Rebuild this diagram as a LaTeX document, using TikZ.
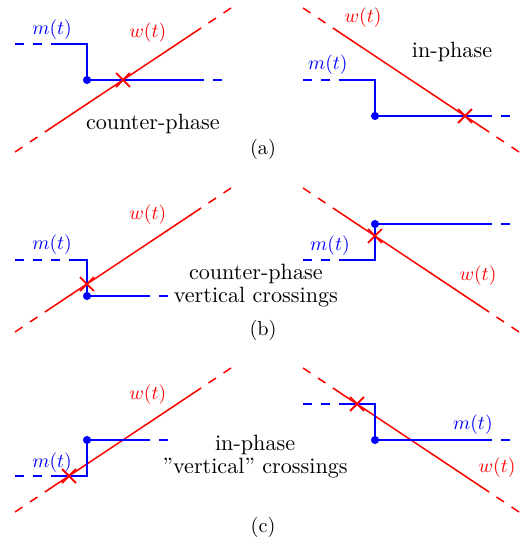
\documentclass[tikz,border=0pt]{standalone}
\usetikzlibrary{shapes.misc}

% cmr10 scaled up, as in the original drawing
\newcommand{\sig}[1]{\scalebox{1.55}{$#1$}}
\newcommand{\bigtext}[1]{\scalebox{1.75}{\normalsize #1}}
\newcommand{\subtext}[1]{\scalebox{1.6}{\normalsize #1}}

\tikzset{
  wline/.style={red, line width=1.2pt},
  mline/.style={blue, line width=1.7pt},
  tail/.style={dash pattern=on 7.11pt off 7.11pt},
  xmark/.style={cross out, draw=red, line width=1.4pt, minimum size=9.5pt, inner sep=0pt},
  txt/.style={font=\fontsize{17.28}{18.2}\selectfont, align=center}
}

\begin{document}
\begin{tikzpicture}
  \useasboundingbox (-0.4167,-0.8889) rectangle (14.2222,14.2222);

  % w(t): rising on the left, falling on the right
  \foreach \y in {0,5,10} {
    \begin{scope}[shift={(0,\y)}]
      \draw[wline,tail] (0,0) -- (0.832,0.555);
      \draw[wline] (0.832,0.555) -- (5.168,3.445);
      \draw[wline,tail] (6,4) -- (5.168,3.445);
      \draw[wline,tail] (8,4) -- (8.832,3.445);
      \draw[wline] (8.832,3.445) -- (13.168,0.555);
      \draw[wline,tail] (14,0) -- (13.168,0.555);
    \end{scope}
  }

  % (a)
  \begin{scope}[shift={(0,10)}]
    \draw[mline,tail] (0,3) -- (1,3);
    \draw[mline] (1,3) -- (2,3) -- (2,2) -- (5,2);
    \draw[mline,tail] (5,2) -- (5.75,2);
    \fill[blue] (2,2) circle (3.2pt);
    \node[xmark] (xa1) at (3,2) {};
    \node[blue] (ma1) at (1.03,3.39) {\sig{m(t)}};
    \node[red] (wa1) at (3.69,3.31) {\sig{w(t)}};
    \node[txt] (ta1) at (3.83,0.78) {\bigtext{counter-phase}};

    \draw[mline,tail] (8,2) -- (9,2);
    \draw[mline] (9,2) -- (10,2) -- (10,1) -- (13,1);
    \draw[mline,tail] (13,1) -- (13.75,1);
    \fill[blue] (10,1) circle (3.2pt);
    \node[xmark] (xa2) at (12.5,1) {};
    \node[blue] (ma2) at (8.69,2.42) {\sig{m(t)}};
    \node[red] (wa2) at (9.67,3.72) {\sig{w(t)}};
    \node[txt] (ta2) at (12.14,2.78) {\bigtext{in-phase}};

    \node (capa) at (6.89,0.06) {\subtext{(a)}};
  \end{scope}

  % (b)
  \begin{scope}[shift={(0,5)}]
    \draw[mline,tail] (0,2) -- (1.5,2);
    \draw[mline] (1.5,2) -- (2,2) -- (2,1) -- (3.5,1);
    \draw[mline,tail] (3.5,1) -- (4.25,1);
    \fill[blue] (2,1) circle (3.2pt);
    \node[xmark] (xb1) at (2,1.333) {};
    \node[blue] (mb1) at (1.03,2.42) {\sig{m(t)}};
    \node[red] (wb1) at (3.69,3.25) {\sig{w(t)}};
    \node[txt] (tb1) at (6.69,1.3) {\bigtext{counter-phase}\\\bigtext{vertical crossings}};

    \draw[mline,tail] (8,2) -- (9,2);
    \draw[mline] (9,2) -- (10,2) -- (10,3) -- (13,3);
    \draw[mline,tail] (13,3) -- (13.75,3);
    \fill[blue] (10,3) circle (3.2pt);
    \node[xmark] (xb2) at (10,2.667) {};
    \node[blue] (mb2) at (8.75,2.39) {\sig{m(t)}};
    \node[red] (wb2) at (12.86,1.56) {\sig{w(t)}};

    \node (capb) at (6.89,0.03) {\subtext{(b)}};
  \end{scope}

  % (c)
  \draw[mline,tail] (0,1) -- (1,1);
  \draw[mline] (1,1) -- (2,1) -- (2,2) -- (3.5,2);
  \draw[mline,tail] (3.5,2) -- (4.25,2);
  \fill[blue] (2,2) circle (3.2pt);
  \node[xmark] (xc1) at (1.5,1) {};
  \node[blue] (mc1) at (1.03,1.36) {\sig{m(t)}};
  \node[red] (wc1) at (3.69,3.25) {\sig{w(t)}};
  \node[txt] (tc1) at (6.67,1.53) {\bigtext{in-phase}\\\bigtext{''vertical'' crossings}};

  \draw[mline,tail] (8,3) -- (9,3);
  \draw[mline] (9,3) -- (10,3) -- (10,2) -- (13,2);
  \draw[mline,tail] (13,2) -- (13.75,2);
  \fill[blue] (10,2) circle (3.2pt);
  \node[xmark] (xc2) at (9.5,3) {};
  \node[blue] (mc2) at (12.72,2.42) {\sig{m(t)}};
  \node[red] (wc2) at (13.39,1.22) {\sig{w(t)}};

  \node (capc) at (6.89,-0.44) {\subtext{(c)}};
\end{tikzpicture}
\end{document}
